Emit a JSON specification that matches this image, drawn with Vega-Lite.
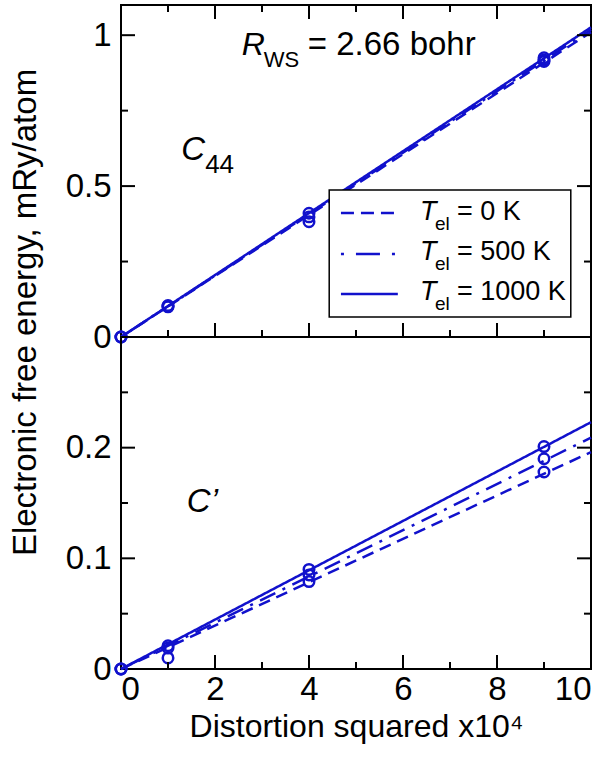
{
  "$schema": "https://vega.github.io/schema/vega-lite/v6.json",
  "autosize": {"type": "none"},
  "padding": {"left": 121, "top": 5, "right": 488, "bottom": 753},
  "background": "white",
  "datasets": {
    "c44_fit": [
      {"T": "0 K", "x": 0, "y": 0}, {"T": "0 K", "x": 10, "y": 1.010},
      {"T": "500 K", "x": 0, "y": 0}, {"T": "500 K", "x": 10, "y": 1.018},
      {"T": "1000 K", "x": 0, "y": 0}, {"T": "1000 K", "x": 10, "y": 1.026}
    ],
    "c44_pts": [
      {"T": "0 K", "x": 0, "y": 0}, {"T": "0 K", "x": 1, "y": 0.100}, {"T": "0 K", "x": 4, "y": 0.382}, {"T": "0 K", "x": 9, "y": 0.913},
      {"T": "500 K", "x": 0, "y": 0}, {"T": "500 K", "x": 1, "y": 0.102}, {"T": "500 K", "x": 4, "y": 0.398}, {"T": "500 K", "x": 9, "y": 0.918},
      {"T": "1000 K", "x": 0, "y": 0}, {"T": "1000 K", "x": 1, "y": 0.104}, {"T": "1000 K", "x": 4, "y": 0.410}, {"T": "1000 K", "x": 9, "y": 0.925}
    ],
    "cp_fit": [
      {"T": "0 K", "x": 0, "y": 0}, {"T": "0 K", "x": 10, "y": 0.196},
      {"T": "500 K", "x": 0, "y": 0}, {"T": "500 K", "x": 10, "y": 0.209},
      {"T": "1000 K", "x": 0, "y": 0}, {"T": "1000 K", "x": 10, "y": 0.223}
    ],
    "cp_pts": [
      {"T": "0 K", "x": 0, "y": 0}, {"T": "0 K", "x": 1, "y": 0.010}, {"T": "0 K", "x": 4, "y": 0.079}, {"T": "0 K", "x": 9, "y": 0.178},
      {"T": "500 K", "x": 0, "y": 0}, {"T": "500 K", "x": 1, "y": 0.019}, {"T": "500 K", "x": 4, "y": 0.085}, {"T": "500 K", "x": 9, "y": 0.190},
      {"T": "1000 K", "x": 0, "y": 0}, {"T": "1000 K", "x": 1, "y": 0.021}, {"T": "1000 K", "x": 4, "y": 0.090}, {"T": "1000 K", "x": 9, "y": 0.201}
    ],
    "xticks_major": [{"v": 2}, {"v": 4}, {"v": 6}, {"v": 8}],
    "xticks_minor": [{"v": 1}, {"v": 3}, {"v": 5}, {"v": 7}, {"v": 9}],
    "c44_yticks_major": [{"v": 0.5}, {"v": 1}],
    "c44_yticks_minor": [{"v": 0.25}, {"v": 0.75}],
    "cp_yticks_major": [{"v": 0.1}, {"v": 0.2}],
    "cp_yticks_minor": [{"v": 0.05}, {"v": 0.15}, {"v": 0.25}],
    "one": [{}]
  },
  "config": {
    "font": "Liberation Sans",
    "view": {"stroke": "black", "strokeWidth": 2},
    "axis": {
      "domain": false,
      "grid": false,
      "ticks": false,
      "tickSize": 0,
      "labelFont": "Liberation Sans",
      "labelFontSize": 33,
      "labelColor": "black",
      "titleFont": "Liberation Sans",
      "titleFontSize": 32,
      "titleFontWeight": "normal",
      "titleColor": "black"
    },
    "text": {"font": "Liberation Sans", "color": "black"},
    "rule": {"color": "black", "strokeWidth": 2, "opacity": 1}
  },
  "bounds": "flush",
  "spacing": 0,
  "vconcat": [
    {
      "width": 470,
      "height": 332,
      "resolve": {"axis": {"x": "independent", "y": "independent"}},
      "layer": [
        {
          "data": {"name": "c44_fit"},
          "mark": {"type": "line", "strokeWidth": 2.5, "color": "#1111cc"},
          "encoding": {
            "x": {"field": "x", "type": "quantitative", "scale": {"domain": [0, 10], "nice": false}, "axis": null},
            "y": {"field": "y", "type": "quantitative", "scale": {"domain": [0, 1.1], "nice": false},
              "axis": {"orient": "left", "values": [0, 0.5, 1], "format": "~g", "labelPadding": 10,
                "title": "Electronic free energy, mRy/atom", "titleFontSize": 33, "titleX": -96, "titleY": 307, "titleBaseline": "middle"}},
            "strokeDash": {"field": "T", "type": "nominal",
              "scale": {"domain": ["0 K", "500 K", "1000 K"], "range": [[12, 7], [3, 8, 17, 8], [1, 0]]}, "legend": null}
          }
        },
        {
          "data": {"name": "c44_pts"},
          "mark": {"type": "point", "shape": "circle", "filled": false, "size": 110, "strokeWidth": 2.5, "color": "#1111cc", "opacity": 1},
          "encoding": {
            "x": {"field": "x", "type": "quantitative", "axis": null},
            "y": {"field": "y", "type": "quantitative", "axis": null},
            "detail": {"field": "T"}
          }
        },
        {
          "data": {"name": "xticks_major"},
          "mark": {"type": "rule", "color": "black", "strokeWidth": 2},
          "encoding": {
            "x": {"field": "v", "type": "quantitative", "axis": null},
            "y": {"datum": 0, "type": "quantitative", "axis": null}, "y2": {"datum": 0.0464}
          }
        },
        {
          "data": {"name": "xticks_minor"},
          "mark": {"type": "rule", "color": "black", "strokeWidth": 2},
          "encoding": {
            "x": {"field": "v", "type": "quantitative", "axis": null},
            "y": {"datum": 0, "type": "quantitative", "axis": null}, "y2": {"datum": 0.0232}
          }
        },
        {
          "data": {"name": "xticks_major"},
          "mark": {"type": "rule", "color": "black", "strokeWidth": 2},
          "encoding": {
            "x": {"field": "v", "type": "quantitative", "axis": null},
            "y": {"datum": 1.1, "type": "quantitative", "axis": null}, "y2": {"datum": 1.0536}
          }
        },
        {
          "data": {"name": "xticks_minor"},
          "mark": {"type": "rule", "color": "black", "strokeWidth": 2},
          "encoding": {
            "x": {"field": "v", "type": "quantitative", "axis": null},
            "y": {"datum": 1.1, "type": "quantitative", "axis": null}, "y2": {"datum": 1.0768}
          }
        },
        {
          "data": {"name": "c44_yticks_major"},
          "mark": {"type": "rule", "color": "black", "strokeWidth": 2},
          "encoding": {
            "y": {"field": "v", "type": "quantitative", "axis": null},
            "x": {"datum": 0, "type": "quantitative", "axis": null}, "x2": {"datum": 0.298}
          }
        },
        {
          "data": {"name": "c44_yticks_minor"},
          "mark": {"type": "rule", "color": "black", "strokeWidth": 2},
          "encoding": {
            "y": {"field": "v", "type": "quantitative", "axis": null},
            "x": {"datum": 0, "type": "quantitative", "axis": null}, "x2": {"datum": 0.149}
          }
        },
        {
          "data": {"name": "c44_yticks_major"},
          "mark": {"type": "rule", "color": "black", "strokeWidth": 2},
          "encoding": {
            "y": {"field": "v", "type": "quantitative", "axis": null},
            "x": {"datum": 10, "type": "quantitative", "axis": null}, "x2": {"datum": 9.702}
          }
        },
        {
          "data": {"name": "c44_yticks_minor"},
          "mark": {"type": "rule", "color": "black", "strokeWidth": 2},
          "encoding": {
            "y": {"field": "v", "type": "quantitative", "axis": null},
            "x": {"datum": 10, "type": "quantitative", "axis": null}, "x2": {"datum": 9.851}
          }
        },
        {
          "data": {"name": "one"},
          "mark": {"type": "rect", "fill": "white", "stroke": "black", "strokeWidth": 1.5},
          "encoding": {
            "x": {"datum": 4.43, "type": "quantitative", "axis": null}, "x2": {"datum": 9.57},
            "y": {"datum": 0.487, "type": "quantitative", "axis": null}, "y2": {"datum": 0.066}
          }
        },
        {
          "data": {"name": "one"},
          "mark": {"type": "rule", "strokeWidth": 2.5, "color": "#1111cc", "strokeDash": [13, 7]},
          "encoding": {"x": {"datum": 4.68, "type": "quantitative", "axis": null}, "x2": {"datum": 5.89},
            "y": {"datum": 0.411, "type": "quantitative", "axis": null}}
        },
        {
          "data": {"name": "one"},
          "mark": {"type": "rule", "strokeWidth": 2.5, "color": "#1111cc", "strokeDash": [3, 12, 24, 12]},
          "encoding": {"x": {"datum": 4.68, "type": "quantitative", "axis": null}, "x2": {"datum": 5.89},
            "y": {"datum": 0.275, "type": "quantitative", "axis": null}}
        },
        {
          "data": {"name": "one"},
          "mark": {"type": "rule", "strokeWidth": 2.5, "color": "#1111cc"},
          "encoding": {"x": {"datum": 4.68, "type": "quantitative", "axis": null}, "x2": {"datum": 5.89},
            "y": {"datum": 0.1425, "type": "quantitative", "axis": null}}
        },
        {
          "data": {"name": "one"},
          "mark": {"type": "text", "text": "T", "fontStyle": "italic", "fontSize": 27, "align": "left", "baseline": "alphabetic"},
          "encoding": {"x": {"datum": 6.36, "type": "quantitative", "axis": null}, "y": {"datum": 0.388, "type": "quantitative", "axis": null}}
        },
        {
          "data": {"name": "one"},
          "mark": {"type": "text", "text": "el", "fontSize": 19, "align": "left", "baseline": "alphabetic", "dx": 15, "dy": 10},
          "encoding": {"x": {"datum": 6.36, "type": "quantitative", "axis": null}, "y": {"datum": 0.388, "type": "quantitative", "axis": null}}
        },
        {
          "data": {"name": "one"},
          "mark": {"type": "text", "text": "= 0 K", "fontSize": 27, "align": "left", "baseline": "alphabetic", "dx": 37},
          "encoding": {"x": {"datum": 6.36, "type": "quantitative", "axis": null}, "y": {"datum": 0.388, "type": "quantitative", "axis": null}}
        },
        {
          "data": {"name": "one"},
          "mark": {"type": "text", "text": "T", "fontStyle": "italic", "fontSize": 27, "align": "left", "baseline": "alphabetic"},
          "encoding": {"x": {"datum": 6.36, "type": "quantitative", "axis": null}, "y": {"datum": 0.255, "type": "quantitative", "axis": null}}
        },
        {
          "data": {"name": "one"},
          "mark": {"type": "text", "text": "el", "fontSize": 19, "align": "left", "baseline": "alphabetic", "dx": 15, "dy": 10},
          "encoding": {"x": {"datum": 6.36, "type": "quantitative", "axis": null}, "y": {"datum": 0.255, "type": "quantitative", "axis": null}}
        },
        {
          "data": {"name": "one"},
          "mark": {"type": "text", "text": "= 500 K", "fontSize": 27, "align": "left", "baseline": "alphabetic", "dx": 37},
          "encoding": {"x": {"datum": 6.36, "type": "quantitative", "axis": null}, "y": {"datum": 0.255, "type": "quantitative", "axis": null}}
        },
        {
          "data": {"name": "one"},
          "mark": {"type": "text", "text": "T", "fontStyle": "italic", "fontSize": 27, "align": "left", "baseline": "alphabetic"},
          "encoding": {"x": {"datum": 6.36, "type": "quantitative", "axis": null}, "y": {"datum": 0.1226, "type": "quantitative", "axis": null}}
        },
        {
          "data": {"name": "one"},
          "mark": {"type": "text", "text": "el", "fontSize": 19, "align": "left", "baseline": "alphabetic", "dx": 15, "dy": 10},
          "encoding": {"x": {"datum": 6.36, "type": "quantitative", "axis": null}, "y": {"datum": 0.1226, "type": "quantitative", "axis": null}}
        },
        {
          "data": {"name": "one"},
          "mark": {"type": "text", "text": "= 1000 K", "fontSize": 27, "align": "left", "baseline": "alphabetic", "dx": 37},
          "encoding": {"x": {"datum": 6.36, "type": "quantitative", "axis": null}, "y": {"datum": 0.1226, "type": "quantitative", "axis": null}}
        },
        {
          "data": {"name": "one"},
          "mark": {"type": "text", "text": "R", "fontStyle": "italic", "fontSize": 32, "align": "left", "baseline": "alphabetic"},
          "encoding": {"x": {"datum": 2.57, "type": "quantitative", "axis": null}, "y": {"datum": 0.934, "type": "quantitative", "axis": null}}
        },
        {
          "data": {"name": "one"},
          "mark": {"type": "text", "text": "WS", "fontSize": 22, "align": "left", "baseline": "alphabetic", "dx": 22, "dy": 12},
          "encoding": {"x": {"datum": 2.57, "type": "quantitative", "axis": null}, "y": {"datum": 0.934, "type": "quantitative", "axis": null}}
        },
        {
          "data": {"name": "one"},
          "mark": {"type": "text", "text": "= 2.66 bohr", "fontSize": 33, "align": "left", "baseline": "alphabetic", "dx": 66},
          "encoding": {"x": {"datum": 2.57, "type": "quantitative", "axis": null}, "y": {"datum": 0.934, "type": "quantitative", "axis": null}}
        },
        {
          "data": {"name": "one"},
          "mark": {"type": "text", "text": "C", "fontStyle": "italic", "fontSize": 33, "align": "left", "baseline": "alphabetic"},
          "encoding": {"x": {"datum": 1.28, "type": "quantitative", "axis": null}, "y": {"datum": 0.586, "type": "quantitative", "axis": null}}
        },
        {
          "data": {"name": "one"},
          "mark": {"type": "text", "text": "44", "fontSize": 26, "align": "left", "baseline": "alphabetic", "dx": 24, "dy": 13},
          "encoding": {"x": {"datum": 1.28, "type": "quantitative", "axis": null}, "y": {"datum": 0.586, "type": "quantitative", "axis": null}}
        }
      ]
    },
    {
      "width": 470,
      "height": 332,
      "resolve": {"axis": {"x": "independent", "y": "independent"}},
      "layer": [
        {
          "data": {"name": "cp_fit"},
          "mark": {"type": "line", "strokeWidth": 2.5, "color": "#1111cc"},
          "encoding": {
            "x": {"field": "x", "type": "quantitative", "scale": {"domain": [0, 10], "nice": false},
              "axis": {"orient": "bottom", "values": [0, 2, 4, 6, 8, 10], "labelPadding": 4,
                "title": "Distortion squared x10⁴", "titlePadding": 5}},
            "y": {"field": "y", "type": "quantitative", "scale": {"domain": [0, 0.3], "nice": false},
              "axis": {"orient": "left", "values": [0, 0.1, 0.2], "format": "~g", "labelPadding": 10, "title": null}},
            "strokeDash": {"field": "T", "type": "nominal",
              "scale": {"domain": ["0 K", "500 K", "1000 K"], "range": [[12, 7], [3, 8, 17, 8], [1, 0]]}, "legend": null}
          }
        },
        {
          "data": {"name": "cp_pts"},
          "mark": {"type": "point", "shape": "circle", "filled": false, "size": 110, "strokeWidth": 2.5, "color": "#1111cc", "opacity": 1},
          "encoding": {
            "x": {"field": "x", "type": "quantitative", "axis": null},
            "y": {"field": "y", "type": "quantitative", "axis": null},
            "detail": {"field": "T"}
          }
        },
        {
          "data": {"name": "xticks_major"},
          "mark": {"type": "rule", "color": "black", "strokeWidth": 2},
          "encoding": {
            "x": {"field": "v", "type": "quantitative", "axis": null},
            "y": {"datum": 0, "type": "quantitative", "axis": null}, "y2": {"datum": 0.01265}
          }
        },
        {
          "data": {"name": "xticks_minor"},
          "mark": {"type": "rule", "color": "black", "strokeWidth": 2},
          "encoding": {
            "x": {"field": "v", "type": "quantitative", "axis": null},
            "y": {"datum": 0, "type": "quantitative", "axis": null}, "y2": {"datum": 0.00633}
          }
        },
        {
          "data": {"name": "cp_yticks_major"},
          "mark": {"type": "rule", "color": "black", "strokeWidth": 2},
          "encoding": {
            "y": {"field": "v", "type": "quantitative", "axis": null},
            "x": {"datum": 0, "type": "quantitative", "axis": null}, "x2": {"datum": 0.298}
          }
        },
        {
          "data": {"name": "cp_yticks_minor"},
          "mark": {"type": "rule", "color": "black", "strokeWidth": 2},
          "encoding": {
            "y": {"field": "v", "type": "quantitative", "axis": null},
            "x": {"datum": 0, "type": "quantitative", "axis": null}, "x2": {"datum": 0.149}
          }
        },
        {
          "data": {"name": "cp_yticks_major"},
          "mark": {"type": "rule", "color": "black", "strokeWidth": 2},
          "encoding": {
            "y": {"field": "v", "type": "quantitative", "axis": null},
            "x": {"datum": 10, "type": "quantitative", "axis": null}, "x2": {"datum": 9.702}
          }
        },
        {
          "data": {"name": "cp_yticks_minor"},
          "mark": {"type": "rule", "color": "black", "strokeWidth": 2},
          "encoding": {
            "y": {"field": "v", "type": "quantitative", "axis": null},
            "x": {"datum": 10, "type": "quantitative", "axis": null}, "x2": {"datum": 9.851}
          }
        },
        {
          "data": {"name": "one"},
          "mark": {"type": "text", "text": "C’", "fontStyle": "italic", "fontSize": 33, "align": "left", "baseline": "alphabetic"},
          "encoding": {"x": {"datum": 1.40, "type": "quantitative", "axis": null}, "y": {"datum": 0.142, "type": "quantitative", "axis": null}}
        }
      ]
    }
  ]
}
